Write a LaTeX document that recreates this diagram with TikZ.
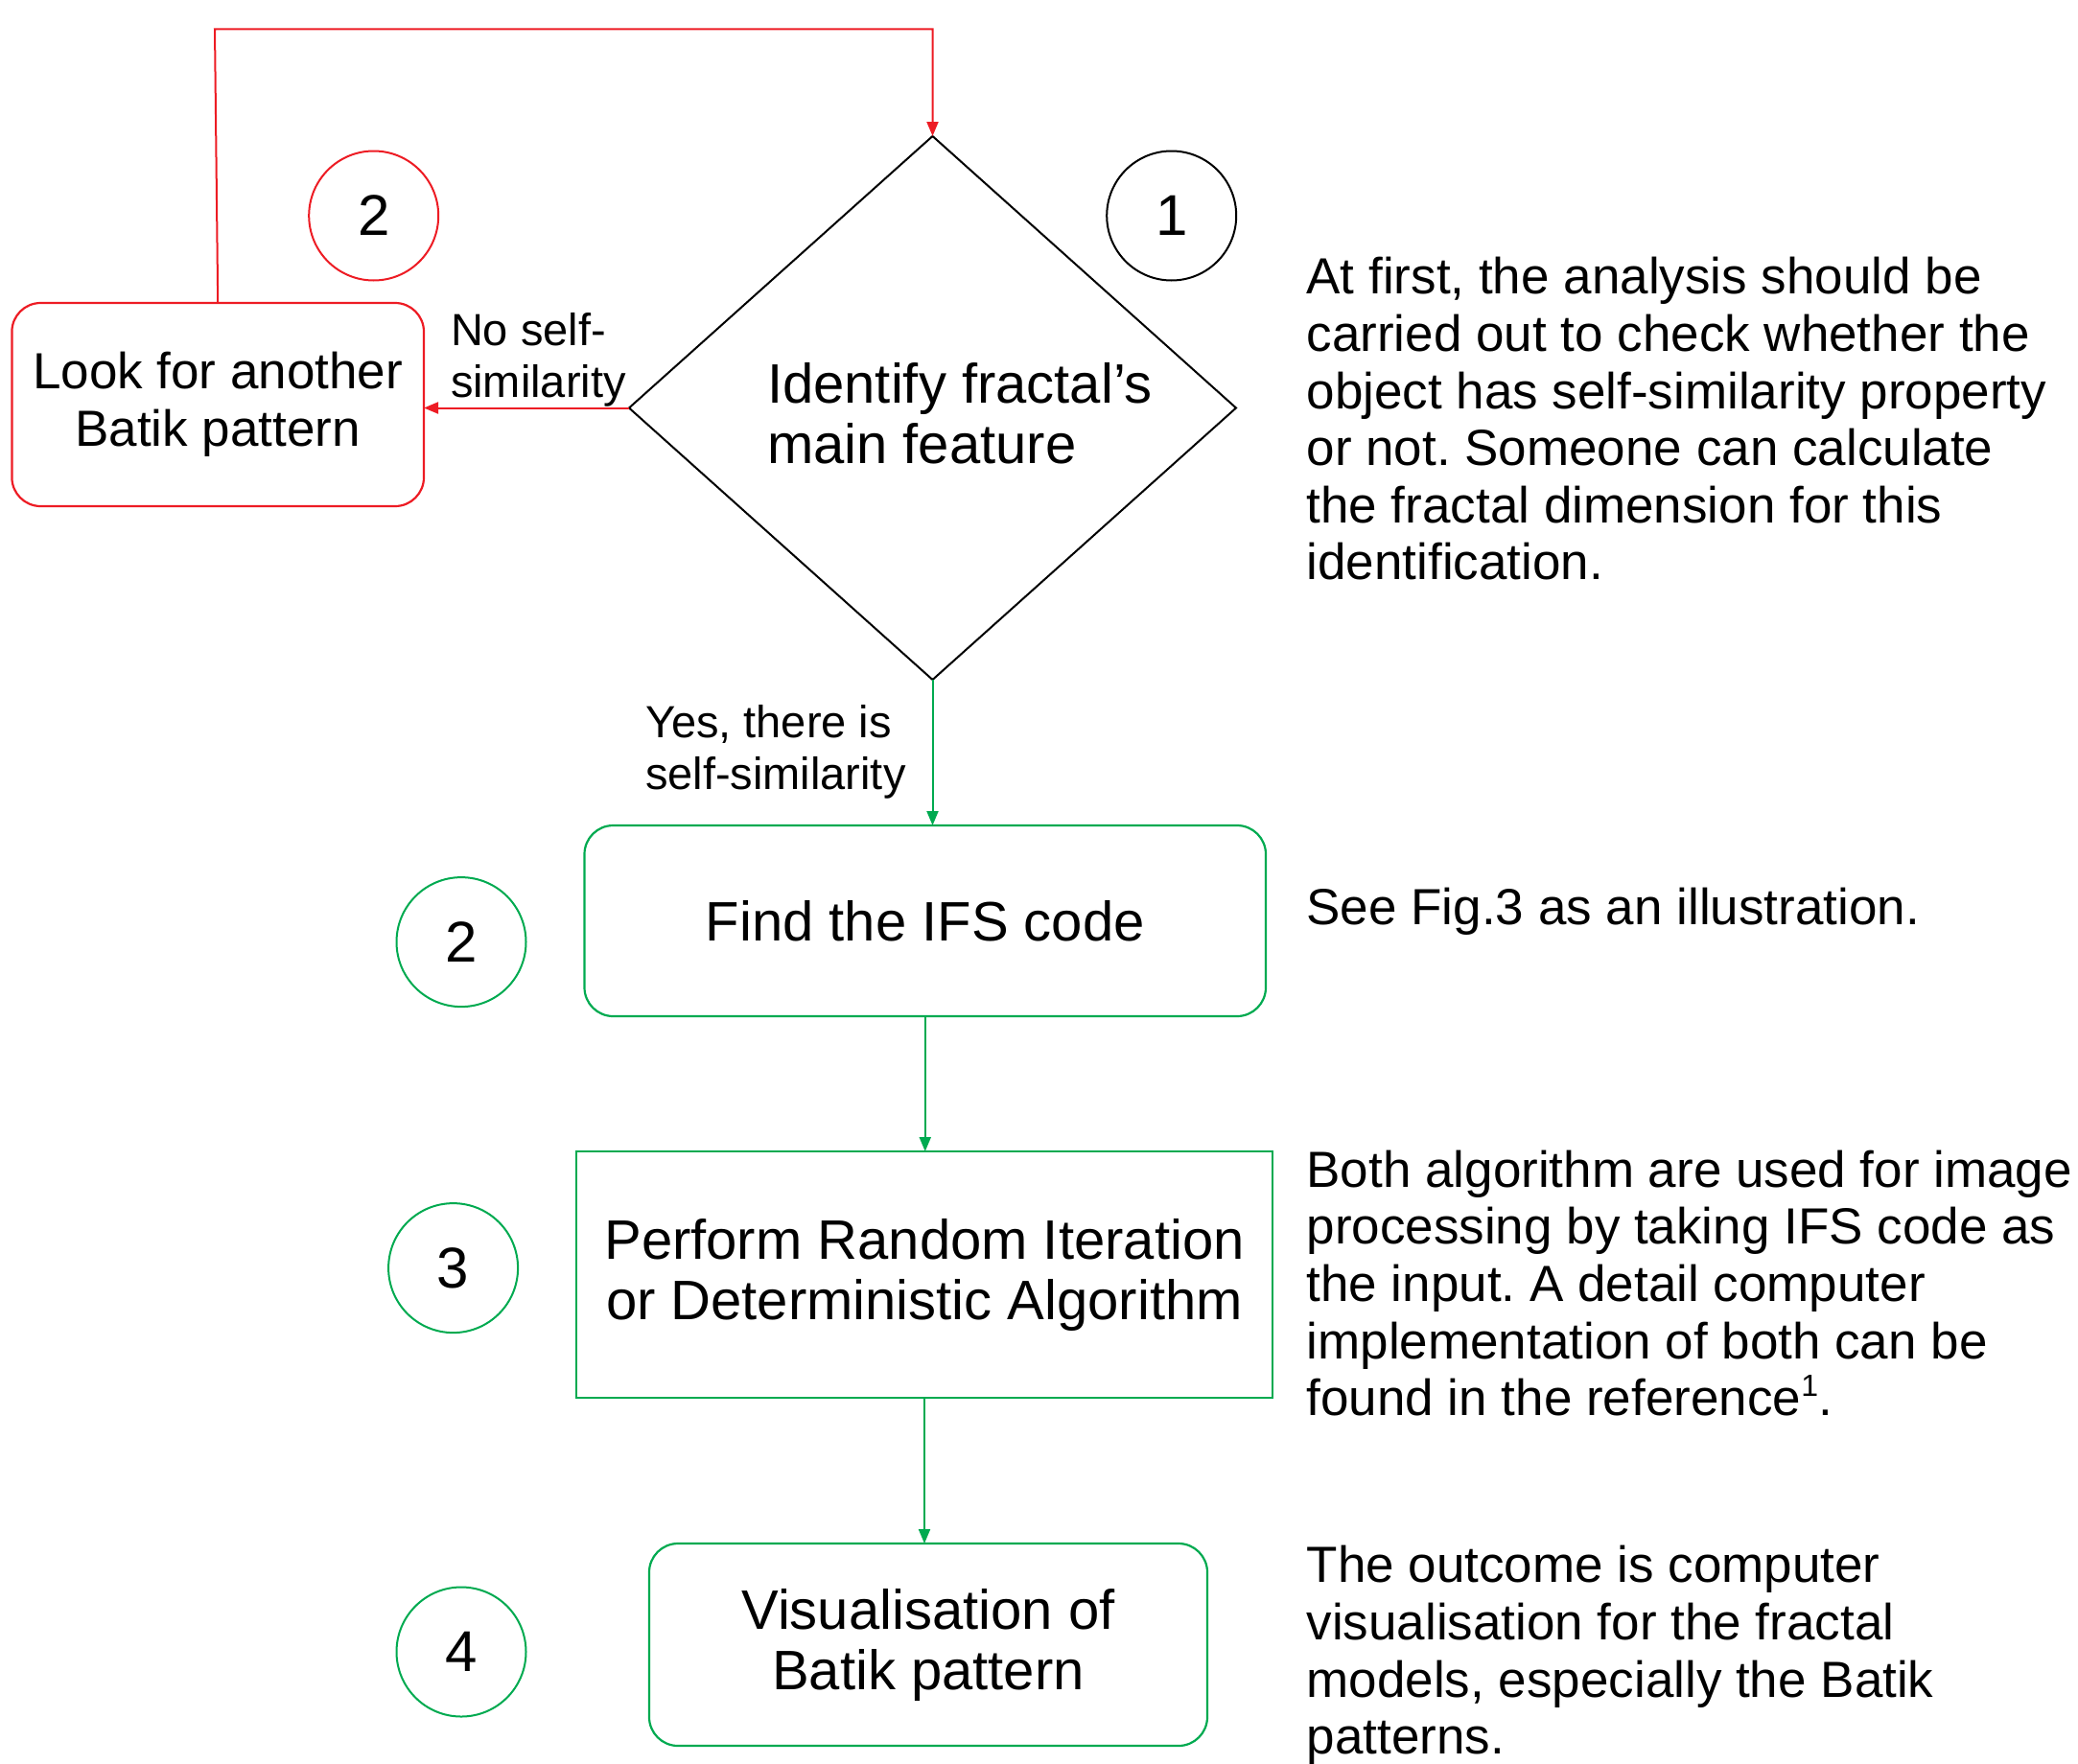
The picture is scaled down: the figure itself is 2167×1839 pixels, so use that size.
\documentclass[tikz,border=0pt]{standalone}
\usepackage{fontspec}
\setmainfont{Liberation Sans}
\usetikzlibrary{shapes.geometric,arrows.meta}
\definecolor{fred}{RGB}{237,28,36}
\definecolor{fgreen}{RGB}{0,170,80}
\newcommand\txtA{\fontsize{58}{63}\selectfont}
\newcommand\txtB{\fontsize{53}{59.6}\selectfont}
\newcommand\txtL{\fontsize{47}{54}\selectfont}
\newcommand\txtN{\fontsize{60}{60}\selectfont}
\newcommand\supone{\raisebox{0.38em}{\fontsize{32}{32}\selectfont 1}}
\frenchspacing
\begin{document}
\begin{tikzpicture}[x=1pt,y=-1pt,
  every node/.style={inner sep=0pt, outer sep=0pt},
  boxline/.style={draw, line width=2.2pt},
  redbox/.style={boxline, draw=fred, rounded corners=30pt, align=center, font=\txtB},
  greenround/.style={boxline, draw=fgreen, rounded corners=30pt, align=center, font=\txtA},
  greenrect/.style={boxline, draw=fgreen, align=center, font=\txtA},
  numcirc/.style={circle, draw, line width=2pt, minimum size=135pt, font=\txtN},
  redarrow/.style={draw=fred, line width=2pt, -{Triangle[length=15pt,width=12pt]}},
  greenarrow/.style={draw=fgreen, line width=2pt, -{Triangle[length=15pt,width=12pt]}},
  sidetext/.style={anchor=west, align=left, font=\txtB},
  lbl/.style={anchor=west, align=left, font=\txtL}
]
\useasboundingbox (0,0) rectangle (2167,1839);

% decision
\node[diamond, draw, line width=2pt, minimum width=633pt, minimum height=567pt] (d) at (972.5,425.5) {};
\node[align=left, font=\txtA] (dt) at (1001,431) {Identify fractal’s\\main feature};

% boxes
\node[redbox, minimum width=429.6pt, minimum height=212pt] (lb) at (227.2,422) {Look for another\\Batik pattern};
\node[greenround, minimum width=710.5pt, minimum height=199pt] (f) at (964.75,960.5) {Find the IFS code};
\node[greenrect, minimum width=726pt, minimum height=257pt] (p) at (964,1329.5) {Perform Random Iteration\\or Deterministic Algorithm};
\node[greenround, minimum width=582pt, minimum height=211pt] (v) at (968,1715.5) {Visualisation of\\Batik pattern};

% number circles
\node[numcirc, draw=fred] (r2) at (389.7,225) {2};
\node[numcirc, draw=black] (c1) at (1221.7,225) {1};
\node[numcirc, draw=fgreen] (g2) at (481,982.6) {2};
\node[numcirc, draw=fgreen] (g3) at (472.6,1322.6) {3};
\node[numcirc, draw=fgreen] (g4) at (481,1723) {4};

% connectors
\coordinate (tl) at (224,30.4);
\draw[redarrow] (lb.north) -- (tl) -| (d.north);
\draw[redarrow] (d.west) -- (d.west -| lb.east);
\draw[greenarrow] (d.south) -- (d.south |- f.north);
\draw[greenarrow] (f.south) -- (f.south |- p.north);
\draw[greenarrow] (p.south) -- (p.south |- v.north);

% connector labels
\node[lbl] (nl) at (470,375) {No self-\\similarity};
\node[lbl] (yl) at (673,784.5) {Yes, there is\\self-similarity};

% side texts
\node[sidetext] (t1) at (1362.6,437) {At first, the analysis should be\\carried out to check whether the\\object has self-similarity property\\or not. Someone can calculate\\the fractal dimension for this\\identification.};
\node[sidetext] (t2) at (1362.6,951) {See Fig.3 as an illustration.};
\node[sidetext] (t3) at (1362.6,1338.5) {Both algorithm are used for image\\processing by taking IFS code as\\the input. A detail computer\\implementation of both can be\\found in the reference\supone.};
\node[sidetext] (t4) at (1362.6,1726.5) {The outcome is computer\\visualisation for the fractal\\models, especially the Batik\\patterns.};
\end{tikzpicture}
\end{document}
